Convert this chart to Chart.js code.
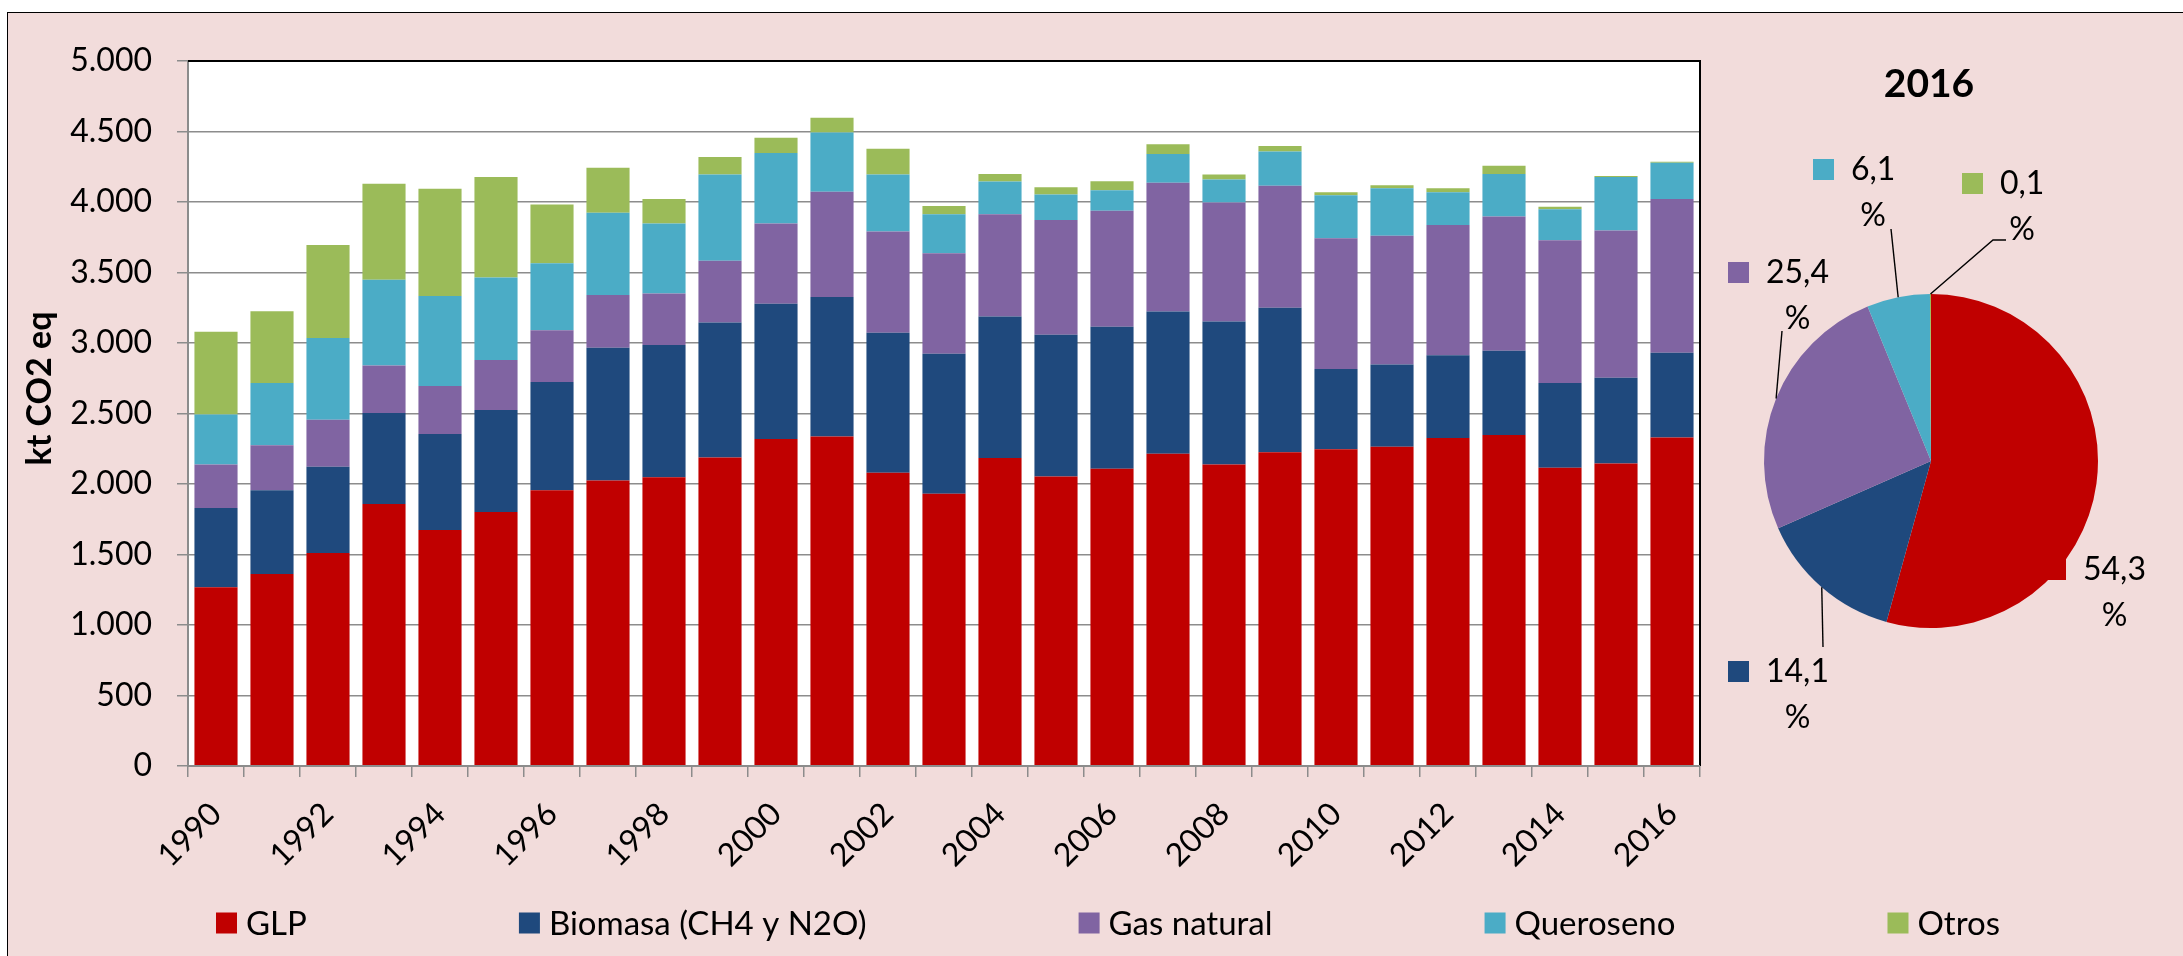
<!DOCTYPE html>
<html><head><meta charset="utf-8">
<script src="https://cdn.jsdelivr.net/npm/chart.js@4.4.1/dist/chart.umd.min.js"></script>
<style>
html,body{margin:0;padding:0;background:#fff;width:2183px;height:956px;overflow:hidden;}
#frame{position:absolute;left:7px;top:12px;width:2176px;height:944px;background:#F2DCDB;border-left:1px solid #000;border-top:1px solid #000;box-sizing:border-box;}
#bar{position:absolute;left:8px;top:13px;width:2175px;height:943px;}
#pie{position:absolute;left:1704px;top:13px;width:479px;height:943px;}
</style></head><body>
<div id="frame"></div>
<canvas id="bar" width="2175" height="943"></canvas>
<canvas id="pie" width="479" height="943"></canvas>
<script>
const years = ['1990','1991','1992','1993','1994','1995','1996','1997','1998','1999','2000','2001','2002','2003','2004','2005','2006','2007','2008','2009','2010','2011','2012','2013','2014','2015','2016'];
const seriesNames = ['GLP','Biomasa (CH4 y N2O)','Gas natural','Queroseno','Otros'];
const glp = [1268,1362,1511,1859,1674,1801,1956,2025,2047,2188,2319,2337,2080,1931,2185,2054,2109,2214,2138,2225,2246,2264,2326,2348,2116,2145,2330];
const biomasa = [562,594,612,644,681,724,768,942,938,957,960,989,992,993,1003,1004,1007,1010,1014,1025,569,584,587,597,601,608,601];
const gasNatural = [308,319,333,337,340,355,366,373,366,438,569,746,718,713,725,815,822,913,844,866,928,913,924,953,1011,1044,1091];
const queroseno = [355,442,580,609,638,584,475,584,497,612,500,421,405,276,232,181,145,203,163,242,304,337,232,301,221,380,257];
const otros = [587,508,659,681,761,713,417,319,174,124,108,105,182,58,54,51,65,69,36,40,22,21,29,58,18,8,7];
const yTicks = [0,500,1000,1500,2000,2500,3000,3500,4000,4500,5000];
const pieTitle = '2016';
const pieValues = [54.3,14.1,25.4,6.1,0.1];
const yTitle = 'kt CO2 eq';

const colors = ['#C00000','#1F497D','#8064A2','#4BACC6','#9BBB59'];
const FONT = 'Lato, "Open Sans", sans-serif';
const GRID = '#8C8C8C';
const fmtThousands = v => String(v).replace(/\B(?=(\d{3})+(?!\d))/g, '.');
const fmtPct = v => v.toFixed(1).replace('.', ',');

Chart.defaults.font.family = FONT;
Chart.defaults.color = '#000';

const barDecor = {
  id: 'barDecor',
  beforeDraw(chart) {
    const {ctx, chartArea: a} = chart;
    ctx.save();
    ctx.fillStyle = '#fff';
    ctx.fillRect(a.left, a.top, a.right - a.left, a.bottom - a.top);
    ctx.restore();
  },
  afterDatasetsDraw(chart) {
    const {ctx, chartArea: a} = chart;
    ctx.save();
    ctx.strokeStyle = '#000';
    ctx.lineWidth = 2;
    ctx.beginPath();
    ctx.moveTo(a.left, a.top);
    ctx.lineTo(a.right, a.top);
    ctx.lineTo(a.right, a.bottom);
    ctx.stroke();
    ctx.strokeStyle = GRID;
    ctx.beginPath();
    ctx.moveTo(a.left, a.bottom);
    ctx.lineTo(a.right, a.bottom);
    ctx.stroke();
    ctx.restore();
  },
  afterDraw(chart) {
    const {ctx, chartArea: a} = chart;
    ctx.save();
    // y axis title
    ctx.translate(32, (a.top + a.bottom) / 2 - 25);
    ctx.rotate(-Math.PI / 2);
    ctx.font = 'bold 34px ' + FONT;
    ctx.fillStyle = '#000';
    ctx.textAlign = 'center';
    ctx.textBaseline = 'middle';
    ctx.fillText(yTitle, 0, 0);
    ctx.restore();
    // legend
    ctx.save();
    ctx.font = '33px ' + FONT;
    const box = 21, gap = 9;
    const ds = chart.data.datasets;
    const widths = ds.map(d => box + gap + ctx.measureText(d.label).width);
    const spanL = 208, spanR = 1992;
    const sum = widths.reduce((p, q) => p + q, 0);
    const sp = (spanR - spanL - sum) / (ds.length - 1);
    let x = spanL;
    const y = 910;
    ds.forEach((d, i) => {
      ctx.fillStyle = d.backgroundColor;
      ctx.fillRect(x, y - box / 2, box, box);
      ctx.fillStyle = '#000';
      ctx.textAlign = 'left';
      ctx.textBaseline = 'middle';
      ctx.fillText(d.label, x + box + gap, y + 1);
      x += widths[i] + sp;
    });
    ctx.restore();
  }
};

const seriesData = [glp, biomasa, gasNatural, queroseno, otros];
new Chart(document.getElementById('bar'), {
  type: 'bar',
  data: {
    labels: years,
    datasets: seriesNames.map((n, i) => ({
      label: n,
      data: seriesData[i],
      backgroundColor: colors[i],
      borderWidth: 0,
      categoryPercentage: 1,
      barPercentage: 0.77
    }))
  },
  options: {
    responsive: false,
    animation: false,
    devicePixelRatio: 1,
    layout: {padding: {top: 48, left: 0, right: 0, bottom: 0}},
    plugins: {legend: {display: false}, tooltip: {enabled: false}, title: {display: false}},
    scales: {
      x: {
        stacked: true,
        offset: true,
        grid: {display: true, drawOnChartArea: false, drawTicks: true, tickLength: 11, color: GRID, lineWidth: 1.5, offset: true},
        border: {display: true, color: GRID, width: 2},
        ticks: {
          autoSkip: false, maxRotation: 45, minRotation: 45, padding: 18, color: '#000',
          font: {family: FONT, size: 32},
          callback: (v, i) => (i % 2 === 0 ? years[i] : '')
        },
        afterFit: s => { s.height = 190; }
      },
      y: {
        stacked: true,
        min: 0, max: 5000,
        afterBuildTicks: s => { s.ticks = yTicks.map(v => ({value: v})); },
        ticks: {padding: 25, color: '#000', font: {family: FONT, size: 32}, callback: v => fmtThousands(v)},
        grid: {color: GRID, lineWidth: 1.5, tickLength: 11, drawTicks: true},
        border: {display: true, color: GRID, width: 2},
        afterFit: s => { s.width = 180; }
      },
      yR: {
        type: 'linear',
        position: 'right',
        display: true,
        grid: {display: false},
        border: {display: false},
        ticks: {display: false},
        afterFit: s => { s.width = 483; }
      }
    }
  },
  plugins: [barDecor]
});

// Pie label layout: text-left offset from pie centre, and leader points
const pieLayout = [
  {dx: 152, dy: 109, leader: null},
  {dx: -165, dy: 211, leader: [[-108, 186]]},
  {dx: -165, dy: -188, leader: [[-149, -130]]},
  {dx: -80, dy: -291, leader: [[-40, -232]]},
  {dx: 69, dy: -277, leader: [[62, -221], [75, -221]]}
];

const pieDecor = {
  id: 'pieDecor',
  afterDraw(chart) {
    const {ctx} = chart;
    const meta = chart.getDatasetMeta(0);
    const a0 = meta.data[0];
    const cx = a0.x, cy = a0.y, r = a0.outerRadius;
    ctx.save();
    ctx.font = 'bold 39px ' + FONT;
    ctx.fillStyle = '#000';
    ctx.textAlign = 'center';
    ctx.textBaseline = 'middle';
    ctx.fillText(pieTitle, cx - 2, cy - 377);
    meta.data.forEach((arc, i) => {
      const L = pieLayout[i];
      const mid = (arc.startAngle + arc.endAngle) / 2;
      const sx = cx + Math.cos(mid) * r, sy = cy + Math.sin(mid) * r;
      if (L.leader) {
        ctx.strokeStyle = '#000';
        ctx.lineWidth = 1.4;
        ctx.beginPath();
        ctx.moveTo(sx, sy);
        L.leader.forEach(p => ctx.lineTo(cx + p[0], cy + p[1]));
        ctx.stroke();
      }
      const tx = cx + L.dx, ty = cy + L.dy;
      ctx.fillStyle = chart.data.datasets[0].backgroundColor[i];
      ctx.fillRect(tx - 38, ty - 11, 21, 21);
      const txt = fmtPct(chart.data.datasets[0].data[i]);
      ctx.font = '32px ' + FONT;
      ctx.fillStyle = '#000';
      ctx.textAlign = 'left';
      ctx.textBaseline = 'middle';
      ctx.fillText(txt, tx, ty);
      const w = ctx.measureText(txt).width;
      ctx.textAlign = 'center';
      ctx.fillText('%', tx + w / 2, ty + 46);
    });
    ctx.restore();
  }
};

new Chart(document.getElementById('pie'), {
  type: 'pie',
  data: {
    labels: seriesNames,
    datasets: [{data: pieValues, backgroundColor: colors, borderWidth: 0}]
  },
  options: {
    responsive: false,
    animation: false,
    devicePixelRatio: 1,
    layout: {padding: {left: 60, right: 85, top: 281, bottom: 328}},
    plugins: {legend: {display: false}, tooltip: {enabled: false}}
  },
  plugins: [pieDecor]
});
</script>
</body></html>
